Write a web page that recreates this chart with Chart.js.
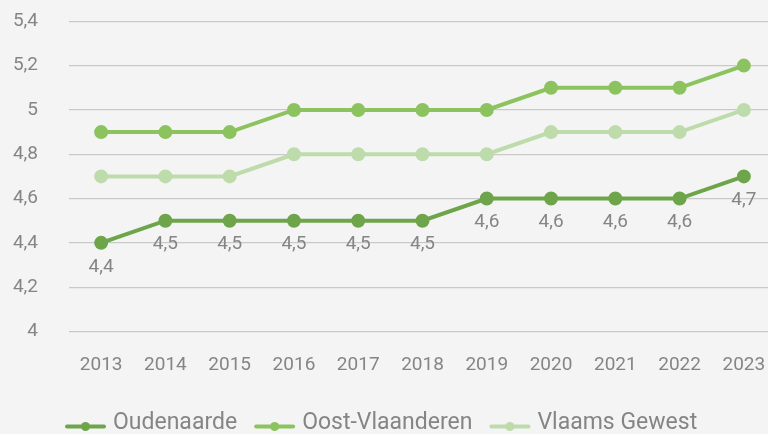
<!DOCTYPE html>
<html>
<head>
<meta charset="utf-8">
<script src="https://cdn.jsdelivr.net/npm/chart.js@4"></script>
<style>
  html, body { margin: 0; padding: 0; background: #f4f4f4; overflow: hidden; }
  canvas { display: block; }
</style>
</head>
<body>
<canvas id="myChart" width="785" height="434"></canvas>
<script>
const jaren = ['2013', '2014', '2015', '2016', '2017', '2018', '2019', '2020', '2021', '2022', '2023'];
const oudenaarde = [4.4, 4.5, 4.5, 4.5, 4.5, 4.5, 4.6, 4.6, 4.6, 4.6, 4.7];
const oostVlaanderen = [4.9, 4.9, 4.9, 5.0, 5.0, 5.0, 5.0, 5.1, 5.1, 5.1, 5.2];
const vlaamsGewest = [4.7, 4.7, 4.7, 4.8, 4.8, 4.8, 4.8, 4.9, 4.9, 4.9, 5.0];

const grijs = '#858585';
const fmt = v => String(Math.round(v * 10) / 10).replace('.', ',');

const kleuren = ['#6ea54b', '#8cc35e', '#bedcab'];
const reeksen = [
  { label: 'Oudenaarde', data: oudenaarde },
  { label: 'Oost-Vlaanderen', data: oostVlaanderen },
  { label: 'Vlaams Gewest', data: vlaamsGewest }
];

// waardes onder de Oudenaarde-lijn
const labelsPlugin = {
  id: 'waardes',
  afterDatasetsDraw(chart) {
    const ctx = chart.ctx;
    const meta = chart.getDatasetMeta(0);
    ctx.save();
    ctx.font = '19px Roboto';
    ctx.fillStyle = grijs;
    ctx.textAlign = 'center';
    ctx.textBaseline = 'middle';
    meta.data.forEach((pt, i) => {
      ctx.fillText(fmt(oudenaarde[i]), pt.x, pt.y + 24);
    });
    ctx.restore();
  }
};

// eigen legende: lijntje met bolletje + tekst
const legendePlugin = {
  id: 'legende',
  afterDraw(chart) {
    const ctx = chart.ctx;
    ctx.save();
    ctx.font = '23px Roboto';
    ctx.textBaseline = 'middle';
    let x = 65;
    const y = 426.5;
    reeksen.forEach((r, i) => {
      ctx.strokeStyle = kleuren[i];
      ctx.fillStyle = kleuren[i];
      ctx.lineWidth = 4;
      ctx.lineCap = 'round';
      ctx.beginPath(); ctx.moveTo(x + 2, y); ctx.lineTo(x + 39, y); ctx.stroke();
      ctx.beginPath(); ctx.arc(x + 20.5, y, 4.5, 0, Math.PI * 2); ctx.fill();
      x += 48;
      ctx.fillStyle = grijs;
      ctx.fillText(r.label, x, y - 3);
      x += ctx.measureText(r.label).width + 17;
    });
    ctx.restore();
  }
};

var ctx = document.getElementById('myChart').getContext('2d');
var chart = new Chart(ctx, {
  type: 'line',
  data: {
    labels: jaren,
    datasets: reeksen.map((r, i) => ({
      label: r.label,
      data: r.data,
      borderColor: kleuren[i],
      backgroundColor: kleuren[i],
      borderWidth: 4,
      pointRadius: 5,
      pointHoverRadius: 5,
      tension: 0,
      order: 2 - i
    }))
  },
  options: {
    responsive: false,
    animation: false,
    layout: { padding: { left: 0, right: 0, top: 21.3, bottom: 59.5 } },
    plugins: {
      tooltip: { enabled: false },
      legend: { display: false }
    },
    scales: {
      x: {
        offset: true,
        afterFit(scale) { scale.height = 43; scale.paddingLeft = 0; scale.paddingRight = 0; },
        grid: { display: false, drawTicks: false },
        border: { display: false },
        ticks: { color: grijs, font: { family: 'Roboto', size: 19 }, padding: 22, maxRotation: 0 }
      },
      y: {
        min: 4,
        max: 5.4,
        afterFit(scale) { scale.width = 69; scale.paddingTop = 0; scale.paddingBottom = 0; },
        grid: { color: '#c9c9c9', lineWidth: 1.3, drawTicks: false },
        border: { display: false },
        ticks: {
          stepSize: 0.2,
          color: grijs,
          font: { family: 'Roboto', size: 19 },
          padding: 31,
          callback: v => fmt(v)
        }
      }
    }
  },
  plugins: [labelsPlugin, legendePlugin]
});
</script>
</body>
</html>
